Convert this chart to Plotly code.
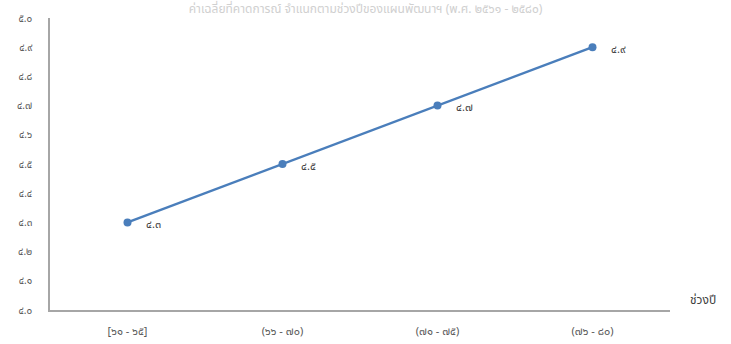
import plotly.graph_objects as go

# periods (Thai Buddhist years) and projected values
periods = ['[๖๑ - ๖๕]', '(๖๖ - ๗๐)', '(๗๑ - ๗๕)', '(๗๖ - ๘๐)']
values = [4.3, 4.5, 4.7, 4.9]
value_labels = ['๔.๓', '๔.๕', '๔.๗', '๔.๙']

tick_vals = [4.0, 4.1, 4.2, 4.3, 4.4, 4.5, 4.6, 4.7, 4.8, 4.9, 5.0]
tick_text = ['๔.๐', '๔.๑', '๔.๒', '๔.๓', '๔.๔', '๔.๕', '๔.๖', '๔.๗', '๔.๘', '๔.๙', '๕.๐']

LINE_BLUE = '#4a7ebb'
AXIS_GREY = '#a6a6a6'
TEXT_GREY = '#595959'
FONT = 'Noto Sans Thai, Noto Sans, DejaVu Sans, sans-serif'

fig = go.Figure()
fig.add_trace(go.Scatter(
    x=periods, y=values,
    mode='lines+markers',
    line={'color': LINE_BLUE, 'width': 2.5},
    marker={'color': LINE_BLUE, 'size': 8},
    hoverinfo='skip',
))

# data labels sit to the lower right of each point
for p, v, lab in zip(periods, values, value_labels):
    fig.add_annotation(x=p, y=v, text=lab, showarrow=False,
                       xanchor='left', yanchor='middle', xshift=16, yshift=-2,
                       font={'size': 11, 'color': '#404040', 'family': FONT})

# x axis title at the right end of the axis
fig.add_annotation(xref='paper', yref='paper', x=1, y=0, text='ช่วงปี',
                   showarrow=False, xanchor='left', yanchor='middle',
                   xshift=18, yshift=10,
                   font={'size': 12, 'color': '#404040', 'family': FONT})

fig.update_layout(
    width=731, height=344,
    margin={'l': 50, 'r': 61, 't': 18, 'b': 34},
    paper_bgcolor='white', plot_bgcolor='white',
    showlegend=False,
    font={'family': FONT, 'color': TEXT_GREY, 'size': 10},
    title={'text': 'ค่าเฉลี่ยที่คาดการณ์ จำแนกตามช่วงปีของแผนพัฒนาฯ (พ.ศ. ๒๕๖๑ - ๒๕๘๐)',
           'x': 0.5, 'xanchor': 'center', 'y': 0.975, 'yanchor': 'middle',
           'font': {'size': 12, 'color': '#d0d0d0', 'family': FONT}},
)
fig.update_xaxes(
    range=[-0.5, 3.5], showgrid=False, zeroline=False, automargin=False,
    showline=True, linecolor=AXIS_GREY, linewidth=1.5,
    ticks='', ticklabelstandoff=10,
    tickfont={'size': 11, 'color': TEXT_GREY},
)
fig.update_yaxes(
    range=[4.0, 5.0], tickvals=tick_vals, ticktext=tick_text,
    showgrid=False, zeroline=False, automargin=False,
    showline=True, linecolor=AXIS_GREY, linewidth=1.5,
    ticks='', ticklabelstandoff=14,
    tickfont={'size': 10, 'color': TEXT_GREY},
)

# drop the browser's default page margin so the chart fills the window
fig.write_html('out.html', config={'displayModeBar': False},
               post_script="document.body.style.margin='0';")
